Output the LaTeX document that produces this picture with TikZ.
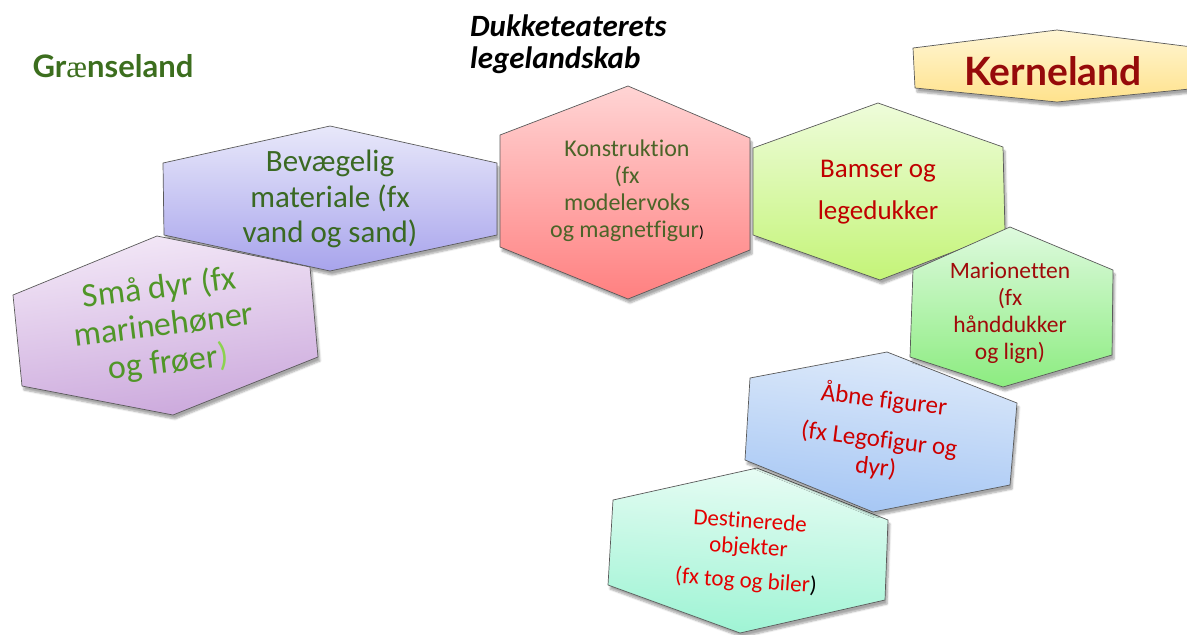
\documentclass[tikz,border=0pt]{standalone}
\usepackage{fontspec}
\setmainfont{Carlito}[Ligatures=NoCommon]
\newfontfamily\latofont{Lato}
\newfontfamily\serifae{Liberation Serif}
\usetikzlibrary{shadows.blur}
\definecolor{bevTop}{RGB}{232,232,250}\definecolor{bevBot}{RGB}{168,164,236}
\definecolor{smaTop}{RGB}{243,232,247}\definecolor{smaBot}{RGB}{203,168,220}
\definecolor{konTop}{RGB}{255,212,212}\definecolor{konBot}{RGB}{255,128,128}
\definecolor{bamTop}{RGB}{238,252,218}\definecolor{bamBot}{RGB}{196,244,120}
\definecolor{marTop}{RGB}{222,250,222}\definecolor{marBot}{RGB}{140,236,128}
\definecolor{abnTop}{RGB}{222,234,250}\definecolor{abnBot}{RGB}{165,198,244}
\definecolor{desTop}{RGB}{232,252,244}\definecolor{desBot}{RGB}{158,244,212}
\definecolor{kerTop}{RGB}{255,246,212}\definecolor{kerBot}{RGB}{255,226,140}
\definecolor{bevText}{RGB}{58,105,35}
\definecolor{konText}{RGB}{75,100,40}
\definecolor{smaText}{RGB}{80,150,40}
\definecolor{smaParen}{RGB}{140,210,80}
\definecolor{bamText}{RGB}{192,0,0}
\definecolor{marText}{RGB}{160,10,10}
\definecolor{abnText}{RGB}{205,0,0}
\definecolor{desText}{RGB}{228,0,0}
\definecolor{graenseText}{RGB}{60,110,30}
\definecolor{kerText}{RGB}{150,10,10}
\definecolor{hexLine}{RGB}{90,90,90}
\tikzset{
  hexbox/.style={draw=hexLine, line width=0.7pt, line join=round,
    blur shadow={shadow xshift=2pt, shadow yshift=-4pt, shadow blur steps=6, shadow opacity=35}},
  hextext/.style={align=center, inner sep=0pt},
}
\begin{document}
\begin{tikzpicture}[x=1pt,y=-1pt]
\useasboundingbox (0,0) rectangle (1187,635);
\begin{scope}
\clip (0,0) rectangle (1187,635);
% Bevaegelig
\path[hexbox, top color=bevTop, bottom color=bevBot]
  (330,126) -- (497,163) -- (497,235) -- (330,271) -- (164,235) -- (163,163) -- cycle;
% Smaa dyr
\path[hexbox, top color=smaTop, bottom color=smaBot, shading angle=7]
  (157,236) -- (310,267) -- (318,357) -- (173,415) -- (22,386) -- (13,295) -- cycle;
% Konstruktion
\path[hexbox, top color=konTop, bottom color=konBot]
  (628,86) -- (750,138) -- (750,250) -- (628,299) -- (500,247) -- (500,135) -- cycle;
% Bamser
\path[hexbox, top color=bamTop, bottom color=bamBot]
  (878,103) -- (1003,147) -- (1005,232) -- (880,280) -- (753,235) -- (753,148) -- cycle;
% Destinerede
\path[hexbox, top color=desTop, bottom color=desBot, shading angle=-4]
  (757,468) -- (888,520) -- (885,600) -- (740,633) -- (608,585) -- (613,500) -- cycle;
% Aabne
\path[hexbox, top color=abnTop, bottom color=abnBot, shading angle=-6]
  (887,352) -- (1017,403) -- (1010,485) -- (873,512) -- (745,460) -- (750,378) -- cycle;
% Marionetten
\path[hexbox, top color=marTop, bottom color=marBot]
  (1010,227) -- (1113,270) -- (1112,355) -- (1003,387) -- (910,357) -- (913,270) -- cycle;
% Kerneland
\path[hexbox, top color=kerTop, bottom color=kerBot]
  (1057,30) -- (1200,48) -- (1200,88) -- (1057,102) -- (915,88) -- (913,48) -- cycle;
\end{scope}

\node[hextext, text=graenseText, font=\latofont\bfseries\fontsize{31}{34}\selectfont] (graense) at (113,66)
  {Gr{\serifae\mdseries æ}nseland};
\node[hextext, anchor=west, align=left, font=\bfseries\itshape\fontsize{31}{32.5}\selectfont] (title) at (470,44)
  {Dukketeaterets\\legelandskab};
\node[hextext, text=kerText, font=\latofont\bfseries\fontsize{39}{40}\selectfont] (kerne) at (1053,71)
  {Kerneland};

\node[hextext, text=bevText, font=\fontsize{31}{35.5}\selectfont] (bev) at (330,199)
  {Bevægelig\\materiale (fx\\vand og sand)};
\node[hextext, text=smaText, font=\fontsize{34}{37.5}\selectfont, rotate=7] (sma) at (164,326)
  {Små dyr (fx\\marinehøner\\og frøer{\color{smaParen})}};
\node[hextext, text=konText, font=\fontsize{24}{27}\selectfont] (kon) at (627,191)
  {Konstruktion\\(fx\\modelervoks\\og magnetfigur{\fontsize{16}{16}\selectfont\color{black})}};
\node[hextext, text=bamText, font=\fontsize{27}{42}\selectfont] (bam) at (878,192)
  {Bamser og\\legedukker};
\node[hextext, text=marText, font=\fontsize{23.5}{27}\selectfont] (mar) at (1010,313)
  {Marionetten\\(fx\\hånddukker\\og lign)};
\node[hextext, text=abnText, font=\fontsize{25}{28}\selectfont, rotate=-7] (abn) at (880,433)
  {Åbne figurer\\[12pt](fx Legofigur og\\dyr)};
\node[hextext, text=desText, font=\fontsize{23}{26}\selectfont, rotate=-4] (des) at (748,552)
  {Destinerede\\objekter\\[8pt](fx tog og biler{\color{black})}};
\end{tikzpicture}
\end{document}
